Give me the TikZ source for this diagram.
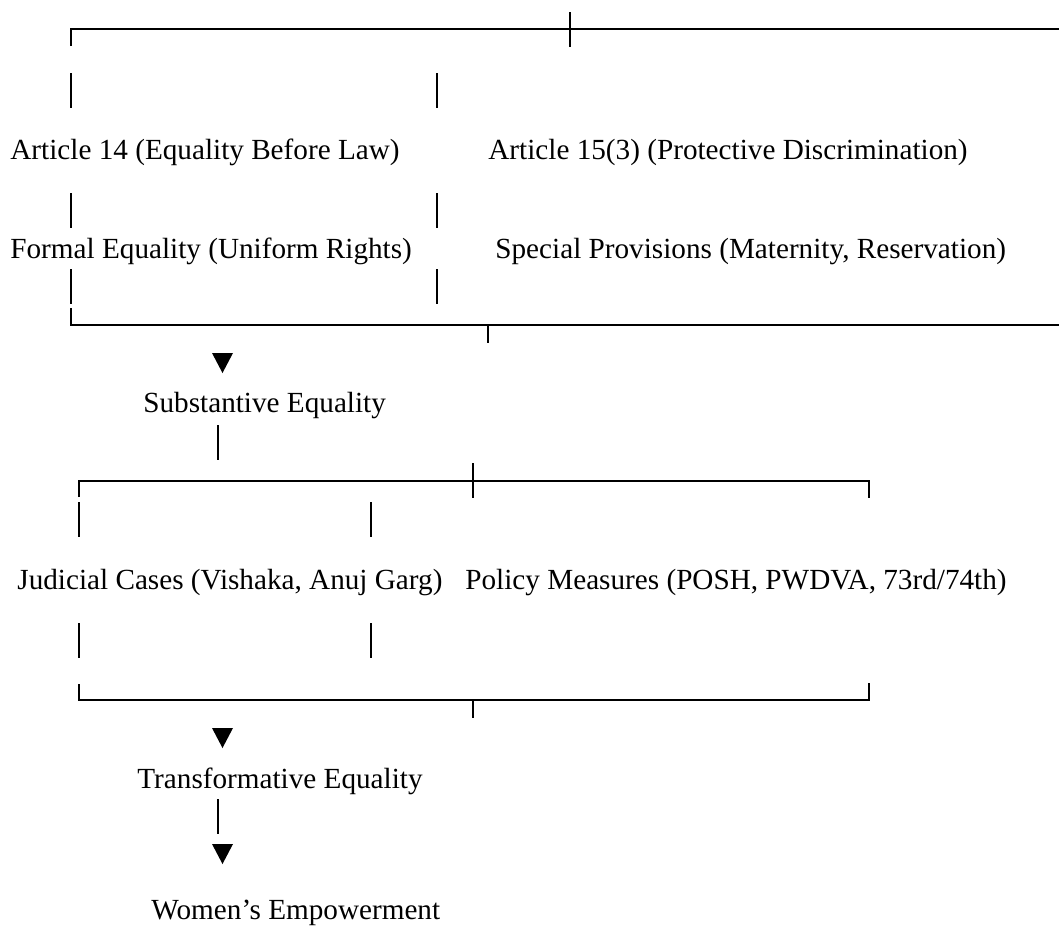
\documentclass[tikz,border=0pt]{standalone}
\usepackage{fontspec}
\setmainfont{Liberation Serif}
\usetikzlibrary{calc}

\tikzset{
    lbl/.style={inner sep=0pt, anchor=base west, font=\fontsize{14.6}{17}\selectfont},
    bar/.style={draw=black, line width=1.15pt},
    tridown/.pic={\fill[black] (-10.5,-10) -- (10.5,-10) -- (0,10) -- cycle;},
}

\begin{document}
\begin{tikzpicture}[x=0.5pt, y=-0.5pt]
    \useasboundingbox (0,0) rectangle (1059,927);

    % Article 14 / Article 15(3):
    \coordinate (a0) at (71,46);
    \coordinate (a1) at (71,29);
    \coordinate (a2) at (1059,29);
    \coordinate (at0) at (570,12);
    \coordinate (at1) at (570,47);
    \draw[bar] (a0) -- (a1) -- (a2);
    \draw[bar] (at0) -- (at1);

    % bars between the rows
    \foreach \x/\n in {71/l,437/r} {
        \foreach \y/\m in {73/a,193/b,269/c} {
            \coordinate (s\n\m) at (\x,\y);
            \coordinate (e\n\m) at (\x,\y+35);
            \draw[bar] (s\n\m) -- (e\n\m);
        }
    }

    % labels
    \node[lbl] (art14) at (10,159) {Article 14 (Equality Before Law)};
    \node[lbl] (art15) at (488,159) {Article 15(3) (Protective Discrimination)};
    \node[lbl] (formal) at (10,258) {Formal Equality (Uniform Rights)};
    \node[lbl] (special) at (495,258) {Special Provisions (Maternity, Reservation)};

    % closing bracket
    \coordinate (b0) at (71,308);
    \coordinate (b1) at (71,325);
    \coordinate (b2) at (1059,325);
    \coordinate (bt0) at (488,325);
    \coordinate (bt1) at (488,343);
    \draw[bar] (b0) -- (b1) -- (b2);
    \draw[bar] (bt0) -- (bt1);

    % Substantive Equality
    \pic (d1) at (222.5,363) {tridown};
    \node[lbl] (subst) at (143,412) {Substantive Equality};
    \coordinate (c0) at (218,425);
    \coordinate (c1) at (218,460);
    \draw[bar] (c0) -- (c1);

    % Judicial Cases / Policy Measures:
    \coordinate (j0) at (79,497);
    \coordinate (j1) at (79,481);
    \coordinate (j2) at (869,481);
    \coordinate (j3) at (869,498);
    \coordinate (jt0) at (473,463);
    \coordinate (jt1) at (473,498);
    \draw[bar] (j0) -- (j1) -- (j2) -- (j3);
    \draw[bar] (jt0) -- (jt1);

    \foreach \x/\n in {79/l,371/r} {
        \foreach \y/\m in {502/a,623/b} {
            \coordinate (p\n\m) at (\x,\y);
            \coordinate (q\n\m) at (\x,\y+35);
            \draw[bar] (p\n\m) -- (q\n\m);
        }
    }

    \node[lbl] (judicial) at (17,589) {Judicial Cases (Vishaka, Anuj Garg)};
    \node[lbl] (policy) at (465,589) {Policy Measures (POSH, PWDVA, 73rd/74th)};

    % closing bracket
    \coordinate (k0) at (79,684);
    \coordinate (k1) at (79,700);
    \coordinate (k2) at (869,700);
    \coordinate (k3) at (869,683);
    \coordinate (kt0) at (473,700);
    \coordinate (kt1) at (473,718);
    \draw[bar] (k0) -- (k1) -- (k2) -- (k3);
    \draw[bar] (kt0) -- (kt1);

    % Transformative Equality and Women's Empowerment
    \pic (d2) at (222.5,738) {tridown};
    \node[lbl] (transf) at (137,788) {Transformative Equality};
    \coordinate (w0) at (218,799);
    \coordinate (w1) at (218,834);
    \draw[bar] (w0) -- (w1);
    \pic (d3) at (222.5,854) {tridown};
    \node[lbl] (women) at (151,919) {Women’s Empowerment};

\end{tikzpicture}
\end{document}
